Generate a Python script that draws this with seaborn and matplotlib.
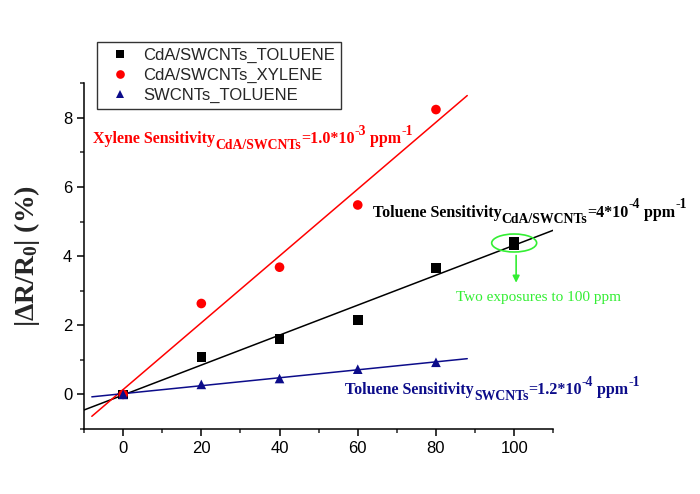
import numpy as np
import pandas as pd
import matplotlib
matplotlib.use("Agg")
import matplotlib.pyplot as plt
import seaborn as sns
from matplotlib.patches import Ellipse
from matplotlib.transforms import offset_copy
from matplotlib.ticker import MultipleLocator

# ---------------- data ----------------
conc_tol_cda = [0, 20, 40, 60, 80, 100, 100]
resp_tol_cda = [0.0, 1.08, 1.60, 2.15, 3.65, 4.32, 4.41]
conc_xyl_cda = [0, 20, 40, 60, 80]
resp_xyl_cda = [0.0, 2.63, 3.68, 5.48, 8.24]
conc_tol_sw = [0, 20, 40, 60, 80]
resp_tol_sw = [0.0, 0.29, 0.46, 0.73, 0.93]

series_names = ["CdA/SWCNTs_TOLUENE", "CdA/SWCNTs_XYLENE", "SWCNTs_TOLUENE"]
x_ticks = [0, 20, 40, 60, 80, 100]
y_ticks = [0, 2, 4, 6, 8]

# ---------------- style ----------------
sns.set_theme(style="ticks")
plt.rcParams["font.family"] = ["Liberation Sans", "DejaVu Sans"]
plt.rcParams["mathtext.fontset"] = "custom"
plt.rcParams["mathtext.rm"] = "Liberation Serif:bold"
plt.rcParams["mathtext.it"] = "Liberation Serif:bold"
plt.rcParams["mathtext.bf"] = "Liberation Serif:bold"

colors = {series_names[0]: "#000000", series_names[1]: "#ff0000", series_names[2]: "#0c0c8a"}
markers = {series_names[0]: "s", series_names[1]: "o", series_names[2]: "^"}
fit_ranges = {series_names[0]: (-10, 110), series_names[1]: (-8, 88), series_names[2]: (-8, 88)}

df = pd.concat([
    pd.DataFrame({"conc": conc_tol_cda, "resp": resp_tol_cda, "series": series_names[0]}),
    pd.DataFrame({"conc": conc_xyl_cda, "resp": resp_xyl_cda, "series": series_names[1]}),
    pd.DataFrame({"conc": conc_tol_sw, "resp": resp_tol_sw, "series": series_names[2]}),
], ignore_index=True)

fig = plt.figure(figsize=(7.0, 4.94), dpi=100)
ax = fig.add_axes([0.12, 0.1316, 0.6704, 0.6998])

# linear fits
for name in series_names:
    sub = df[df["series"] == name]
    k, b = np.polyfit(sub["conc"], sub["resp"], 1)
    x0, x1 = fit_ranges[name]
    xs = np.array([x0, x1], dtype=float)
    fit_df = pd.DataFrame({"conc": xs, "resp": k * xs + b})
    sns.lineplot(data=fit_df, x="conc", y="resp", color=colors[name], lw=1.1,
                 ax=ax, legend=False, zorder=2)

sns.scatterplot(data=df, x="conc", y="resp", hue="series", style="series",
                palette=colors, markers=markers, hue_order=series_names,
                style_order=series_names, s=48, linewidth=0, ax=ax, zorder=3)

ax.set_xlim(-10, 110)
ax.set_ylim(-1, 9)
ax.set_xticks(x_ticks)
ax.set_yticks(y_ticks)
ax.xaxis.set_minor_locator(MultipleLocator(10))
ax.yaxis.set_minor_locator(MultipleLocator(1))
ax.tick_params(which="major", direction="out", length=5, width=1.1, labelsize=12,
               pad=3.5, colors="black")
ax.tick_params(which="minor", direction="out", length=3, width=1.1)
for s in ["top", "right"]:
    ax.spines[s].set_visible(False)
for s in ["left", "bottom"]:
    ax.spines[s].set_linewidth(1.1)
    ax.spines[s].set_color("black")

ax.set_xlabel("")
ax.set_ylabel("|ΔR/R$_{0}$| (%)", fontsize=20, fontweight="bold",
              family=["Liberation Serif", "DejaVu Serif"])
ax.yaxis.set_label_coords(-0.09, 0.5)

# legend
handles, labels = ax.get_legend_handles_labels()
leg = ax.legend(handles, labels, loc="upper left", bbox_to_anchor=(97 / 700, 1 - 42 / 494),
                bbox_transform=fig.transFigure, frameon=True, fancybox=False,
                edgecolor="black", fontsize=12, borderpad=0.35, labelspacing=0.3,
                handlelength=2.0, handletextpad=0.4, borderaxespad=0, markerscale=0.9)
leg.get_frame().set_linewidth(1.0)
leg.set_zorder(5)

# rich text annotations
renderer = fig.canvas.get_renderer()


def rich(x, y, parts, color, size=11.5):
    xoff = 0.0
    for s, kind in parts:
        fs = size if kind == "n" else size * 0.86
        dy = {"n": 0.0, "sub": -0.38 * size, "sup": 0.52 * size}[kind]
        tr = offset_copy(ax.transData, fig=fig, x=xoff, y=dy, units="points")
        t = ax.text(x, y, s, transform=tr, fontsize=fs, color=color, fontweight="bold",
                    family=["Liberation Serif", "DejaVu Serif"], ha="left", va="baseline",
                    clip_on=False)
        w = t.get_window_extent(renderer).width
        xoff += w * 72.0 / fig.dpi


rich(-7.6, 7.27, [("Xylene Sensitivity", "n"), ("CdA/SWCNTs", "sub"), ("=1.0*10", "n"),
                  ("-3", "sup"), (" ppm", "n"), ("-1", "sup")], "#ff0000")
rich(63.9, 5.14, [("Toluene Sensitivity", "n"), ("CdA/SWCNTs", "sub"), ("=4*10", "n"),
                  ("-4", "sup"), (" ppm", "n"), ("-1", "sup")], "#000000")
rich(56.8, 0.0, [("Toluene Sensitivity", "n"), ("SWCNTs", "sub"), ("=1.2*10", "n"),
                 ("-4", "sup"), (" ppm", "n"), ("-1", "sup")], "#0c0c8a")

# highlight of the two exposures
ax.add_patch(Ellipse((100, 4.38), 11.5, 0.52, fill=False, edgecolor="#33ee33", lw=1.2,
                     zorder=4))
ax.annotate("", xy=(100.5, 3.15), xytext=(100.5, 4.1),
            arrowprops=dict(arrowstyle="-|>", color="#33ee33", lw=1.2, mutation_scale=10))
ax.text(106.1, 2.81, "Two exposures to 100 ppm", color="#33ee33", fontsize=11,
        family=["Liberation Serif", "DejaVu Serif"], ha="center", va="center", clip_on=False)

fig.savefig("out.png", dpi=100)
